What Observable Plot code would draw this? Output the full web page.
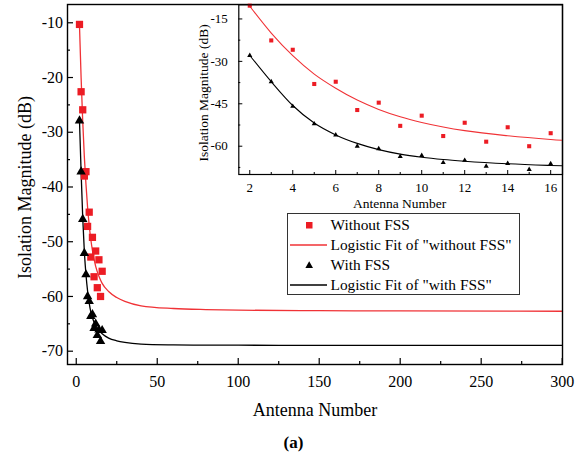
<!DOCTYPE html>
<html>
<head>
<meta charset="utf-8">
<script src="https://cdn.jsdelivr.net/npm/d3@7"></script>
<script src="https://cdn.jsdelivr.net/npm/@observablehq/plot@0.6"></script>
<style>
  html, body { margin: 0; padding: 0; background: #fff; }
  #wrap { position: relative; width: 584px; height: 455px; font-family: "Liberation Serif", "Times New Roman", serif; }
  #wrap svg { position: absolute; left: 0; top: 0; }
  #legend { position: absolute; left: 286.5px; top: 212.5px; width: 233px; height: 82px; border: 1.2px solid #333; background: #fff; box-sizing: border-box; }
  .lrow { position: absolute; left: 0; height: 20px; width: 100%; font-size: 15.4px; line-height: 20px; color: #000; }
  .lrow svg { position: absolute; left: 0; top: 0; }
  .lrow span { position: absolute; left: 43px; top: 0; white-space: nowrap; }
</style>
</head>
<body>
<div id="wrap"></div>
<script>
// ---- data ----
const antenna = [2, 3, 4, 5, 6, 7, 8, 9, 10, 11, 12, 13, 14, 15, 16];
const withoutFSS = [-10.3, -22.6, -25.9, -38.0, -37.2, -47.2, -44.6, -52.8, -49.2, -56.4, -51.7, -58.4, -53.3, -60.0, -55.4];
const withFSS = [-27.9, -37.2, -45.9, -52.1, -56.0, -60.0, -60.9, -63.6, -63.3, -65.8, -65.0, -67.1, -66.1, -68.2, -66.2];

// logistic fit curves
const fitX = [2, 3, 4, 5, 6, 7, 8, 9, 10, 11, 12, 14, 16, 20, 25, 30, 40, 60, 80, 100, 150, 200, 300];
const fitWithout = [-10.5, -20.0, -28.0, -34.5, -39.5, -43.7, -47.0, -49.6, -51.6, -53.2, -54.5, -56.3, -57.6, -59.1, -60.2, -60.9, -61.7, -62.2, -62.4, -62.5, -62.6, -62.65, -62.7];
const fitWith = [-27.9, -37.2, -45.6, -51.8, -56.0, -59.0, -61.2, -62.8, -63.9, -64.7, -65.3, -66.2, -66.8, -67.6, -68.1, -68.4, -68.7, -68.85, -68.9, -68.9, -68.95, -68.95, -68.95];

// tick values
const mainXMajor = [0, 50, 100, 150, 200, 250, 300];
const mainXMinor = [25, 75, 125, 175, 225, 275];
const mainYMajor = [-70, -60, -50, -40, -30, -20, -10];
const mainYMinor = [-65, -55, -45, -35, -25, -15];
const insetXMajor = [2, 4, 6, 8, 10, 12, 14, 16];
const insetXMinor = [3, 5, 7, 9, 11, 13, 15];
const insetYMajor = [-60, -45, -30, -15];
const insetYMinor = [-67.5, -52.5, -37.5, -22.5];

const labels = {
  x: "Antenna Number",
  y: "Isolation Magnitude (dB)",
  caption: "(a)",
  s1: "Without FSS",
  s2: 'Logistic Fit of "without FSS"',
  s3: "With FSS",
  s4: 'Logistic Fit of "with FSS"'
};

const RED = "#ec1c24";
const REDLINE = "#f03236";
const BLACK = "#000";

const points = antenna.map((a, i) => ({x: a, without: withoutFSS[i], with: withFSS[i]}));
const fit = fitX.map((a, i) => ({x: a, without: fitWithout[i], with: fitWith[i]}));

const font = "'Liberation Serif', 'Times New Roman', serif";
const noText = () => "";
const plain = d => String(d);

// ---- main chart ----
const main = Plot.plot({
  width: 584, height: 455,
  marginLeft: 67, marginRight: 22, marginTop: 4, marginBottom: 91,
  style: {fontFamily: font, background: "transparent", color: "#000", overflow: "visible"},
  x: {domain: [-5.4, 300.2]},
  y: {domain: [-72.43, -6.66]},
  marks: [
    Plot.line(fit, {x: "x", y: "without", stroke: REDLINE, strokeWidth: 1.3, curve: "monotone-x", clip: true}),
    Plot.line(fit, {x: "x", y: "with", stroke: BLACK, strokeWidth: 1.3, curve: "monotone-x", clip: true}),
    Plot.dot(points, {x: "x", y: "without", symbol: "square", r: 4.1, fill: RED, stroke: "none"}),
    Plot.dot(points, {x: "x", y: "with", symbol: "triangle", r: 3.5, fill: BLACK, stroke: "none"}),
    Plot.axisX(mainXMajor, {anchor: "bottom", tickSize: 6, dy: -6, tickFormat: noText, label: null, strokeWidth: 1.2}),
    Plot.axisX(mainXMinor, {anchor: "bottom", tickSize: 3, dy: -3, tickFormat: noText, label: null, strokeWidth: 1.2}),
    Plot.axisX(mainXMajor, {anchor: "bottom", tickSize: 0, tickPadding: 11, fontSize: 16, label: null, tickFormat: plain}),
    Plot.axisY(mainYMajor, {anchor: "left", tickSize: 6, dx: 6, tickFormat: noText, label: null, strokeWidth: 1.2}),
    Plot.axisY(mainYMinor, {anchor: "left", tickSize: 3, dx: 3, tickFormat: noText, label: null, strokeWidth: 1.2}),
    Plot.axisY(mainYMajor, {anchor: "left", tickSize: 0, tickPadding: 4.5, fontSize: 16, label: null, tickFormat: plain}),
    Plot.frame({stroke: "#000", strokeWidth: 1.4}),
    Plot.text([labels.x], {frameAnchor: "bottom", dy: 46.2, fontSize: 18, textAnchor: "middle", lineAnchor: "middle", fill: "#000"}),
    Plot.text([labels.y], {frameAnchor: "left", dx: -42.5, dy: 3, rotate: -90, fontSize: 18, textAnchor: "middle", lineAnchor: "middle", fill: "#000"}),
    Plot.text([labels.caption], {frameAnchor: "bottom", dx: -21.5, dy: 77.6, fontSize: 17, fontWeight: "bold", textAnchor: "middle", lineAnchor: "middle", fill: "#000"})
  ]
});

// ---- inset chart ----
const inset = Plot.plot({
  width: 584, height: 455,
  marginLeft: 238.3, marginRight: 22, marginTop: 4.3, marginBottom: 281,
  style: {fontFamily: font, background: "transparent", color: "#000", overflow: "visible"},
  x: {domain: [1.49, 16.55]},
  y: {domain: [-70, -10]},
  marks: [
    Plot.line(fit, {x: "x", y: "without", stroke: REDLINE, strokeWidth: 1.1, curve: "monotone-x", clip: true}),
    Plot.line(fit, {x: "x", y: "with", stroke: BLACK, strokeWidth: 1.1, curve: "monotone-x", clip: true}),
    Plot.dot(points, {x: "x", y: "without", symbol: "square", r: 2.3, fill: RED, stroke: "none"}),
    Plot.dot(points, {x: "x", y: "with", symbol: "triangle", r: 1.9, fill: BLACK, stroke: "none"}),
    Plot.axisX(insetXMajor, {anchor: "bottom", tickSize: 4, dy: -4, tickFormat: noText, label: null, strokeWidth: 1}),
    Plot.axisX(insetXMinor, {anchor: "bottom", tickSize: 2, dy: -2, tickFormat: noText, label: null, strokeWidth: 1}),
    Plot.axisX(insetXMajor, {anchor: "bottom", tickSize: 0, tickPadding: 8.5, fontSize: 13, label: null, tickFormat: plain}),
    Plot.axisY(insetYMajor, {anchor: "left", tickSize: 4, dx: 4, tickFormat: noText, label: null, strokeWidth: 1}),
    Plot.axisY(insetYMinor, {anchor: "left", tickSize: 2, dx: 2, tickFormat: noText, label: null, strokeWidth: 1}),
    Plot.axisY(insetYMajor, {anchor: "left", tickSize: 0, tickPadding: 11, fontSize: 13, label: null, tickFormat: plain}),
    Plot.frame({stroke: "#000", strokeWidth: 1.2}),
    Plot.text([labels.x], {frameAnchor: "bottom", dx: -1, dy: 29.4, fontSize: 13.5, textAnchor: "middle", lineAnchor: "middle", fill: "#000"}),
    Plot.text([labels.y], {frameAnchor: "left", dx: -35.3, dy: 3.3, rotate: -90, fontSize: 13.5, textAnchor: "middle", lineAnchor: "middle", fill: "#000"})
  ]
});

const wrap = document.getElementById("wrap");
wrap.appendChild(main);
wrap.appendChild(inset);

// ---- legend ----
const legend = document.createElement("div");
legend.id = "legend";
const rows = [
  {text: labels.s1, kind: "square", color: RED},
  {text: labels.s2, kind: "line", color: REDLINE},
  {text: labels.s3, kind: "triangle", color: BLACK},
  {text: labels.s4, kind: "line", color: BLACK}
];
rows.forEach((r, i) => {
  const row = document.createElement("div");
  row.className = "lrow";
  row.style.top = (1.5 + i * 20) + "px";
  let sym = "";
  if (r.kind === "square") sym = `<rect x="18" y="7" width="6.5" height="6.5" fill="${r.color}"/>`;
  else if (r.kind === "triangle") sym = `<path d="M21.2,6.3 L25,13 L17.4,13 Z" fill="${r.color}"/>`;
  else sym = `<line x1="2" x2="39" y1="10" y2="10" stroke="${r.color}" stroke-width="1.3"/>`;
  row.innerHTML = `<svg width="42" height="20">${sym}</svg><span>${r.text}</span>`;
  legend.appendChild(row);
});
wrap.appendChild(legend);
</script>
</body>
</html>
